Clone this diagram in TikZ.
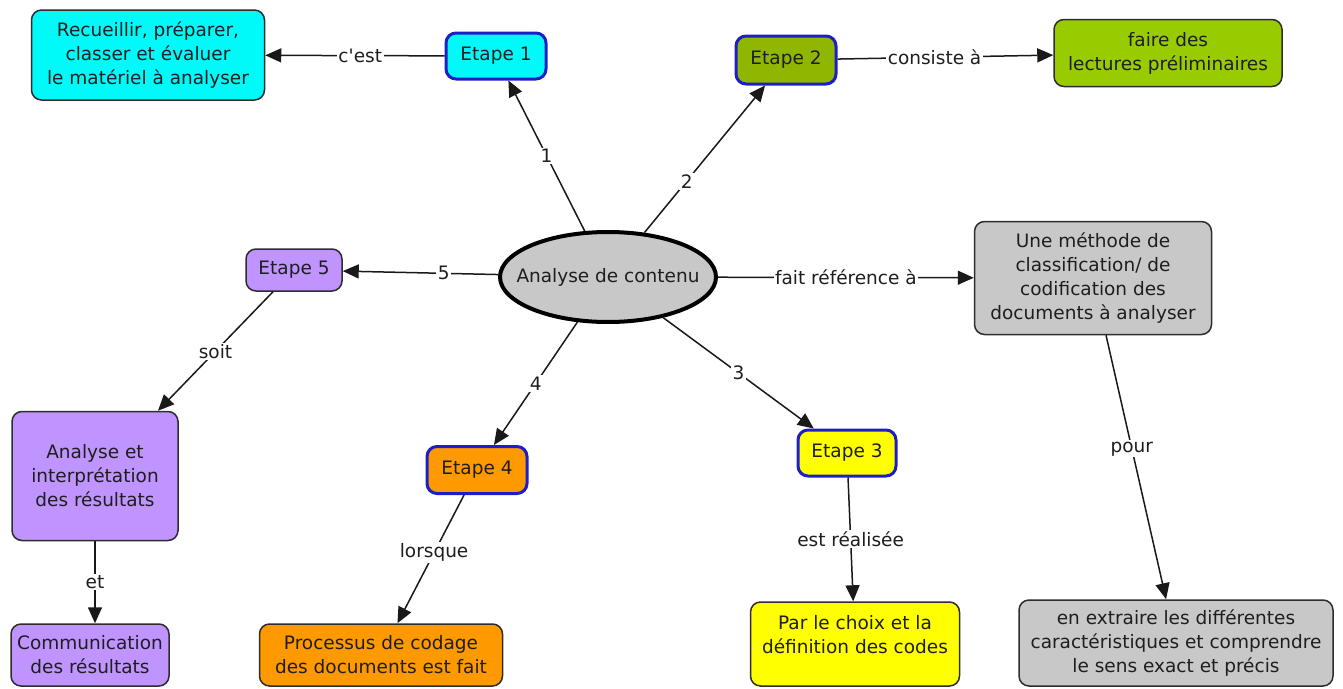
\documentclass[tikz,border=0pt]{standalone}
\usepackage{fontspec}
\setmainfont{DejaVu Sans}
\usetikzlibrary{arrows.meta,shapes.geometric}
\definecolor{cyanf}{RGB}{0,250,250}
\definecolor{greenA}{RGB}{143,182,0}
\definecolor{greenB}{RGB}{153,204,0}
\definecolor{grayf}{RGB}{200,200,200}
\definecolor{purplef}{RGB}{192,148,255}
\definecolor{orangef}{RGB}{255,153,0}
\definecolor{yellowf}{RGB}{255,255,0}
\definecolor{blueb}{RGB}{30,30,200}
\definecolor{darkb}{RGB}{45,45,45}
\definecolor{linec}{RGB}{25,25,25}
\definecolor{txt}{RGB}{30,30,30}
\tikzset{
  box/.style={draw=darkb, line width=1.5pt, rounded corners=10pt, align=center, inner sep=2pt, text=txt},
  etapebox/.style={box, draw=blueb, line width=3pt},
  lab/.style={fill=white, inner sep=1.5pt, text=txt},
  conn/.style={draw=linec, line width=1.5pt, -{Triangle[length=16pt,width=14pt]}},
}
\begin{document}
\begin{tikzpicture}[x=1pt,y=-1pt,font=\fontsize{18.5}{24}\selectfont]
\useasboundingbox (0,0) rectangle (1343,688);
% nodes
\node[box, fill=cyanf, minimum width=233, minimum height=90] (recueil) at (148,55) {Recueillir, préparer,\\classer et évaluer\\le matériel à analyser};
\node[etapebox, fill=cyanf, minimum width=100, minimum height=46] (e1) at (496,56) {Etape 1};
\node[etapebox, fill=greenA, minimum width=100, minimum height=48] (e2) at (786,60) {Etape 2};
\node[box, fill=greenB, minimum width=228, minimum height=67] (faire) at (1168,53) {faire des\\lectures préliminaires};
\node[ellipse, draw=black, line width=4pt, fill=grayf, inner sep=0pt, minimum width=216, minimum height=90, text=txt] (ac) at (608,277) {\makebox[0pt]{Analyse de contenu}};
\node[box, fill=purplef, minimum width=96, minimum height=42] (e5) at (294,270) {Etape 5};
\node[box, fill=grayf, minimum width=237, minimum height=113] (meth) at (1093,278) {Une méthode de\\classification/ de\\codification des\\documents à analyser};
\node[box, fill=purplef, minimum width=166, minimum height=129] (interp) at (95,476) {Analyse et\\interprétation\\des résultats};
\node[box, fill=purplef, minimum width=158, minimum height=62] (comm) at (90,655) {Communication\\des résultats};
\node[etapebox, fill=orangef, minimum width=100, minimum height=47] (e4) at (477,470) {Etape 4};
\node[box, fill=orangef, minimum width=243, minimum height=62] (proc) at (381,655) {Processus de codage\\des documents est fait};
\node[etapebox, fill=yellowf, minimum width=98, minimum height=46] (e3) at (847,453) {Etape 3};
\node[box, fill=yellowf, minimum width=209, minimum height=84] (choix) at (855,644) {Par le choix et la\\définition des codes\\[-4pt]\mbox{}};
\node[box, fill=grayf, minimum width=314, minimum height=86] (extr) at (1176,643) {en extraire les différentes\\caractéristiques et comprendre\\le sens exact et précis};
% connectors
\draw[conn] (e1) -- node[lab, pos=0.47] {c\textquotesingle est} (recueil);
\draw[conn] (ac) -- node[lab] {1} (e1);
\draw[conn] (ac) -- node[lab, pos=0.35] {2} (e2);
\draw[conn] (e2) -- node[lab, pos=0.45] {consiste à} (faire);
\draw[conn] (ac) -- node[lab, pos=0.35] {5} (e5);
\draw[conn] (ac) -- node[lab] {fait référence à} (meth);
\draw[conn] (ac) -- node[lab] {3} (e3);
\draw[conn] (ac) -- node[lab] {4} (e4);
\draw[conn] (e5) -- node[lab] {soit} (interp);
\draw[conn] (interp.south) -- node[lab] {et} (interp.south |- comm.north);
\draw[conn] (e4) -- node[lab, pos=0.45] {lorsque} (proc);
\draw[conn] (e3) -- node[lab] {est réalisée} (choix);
\draw[conn] (meth) -- node[lab, pos=0.43] {pour} (extr);
\end{tikzpicture}
\end{document}
